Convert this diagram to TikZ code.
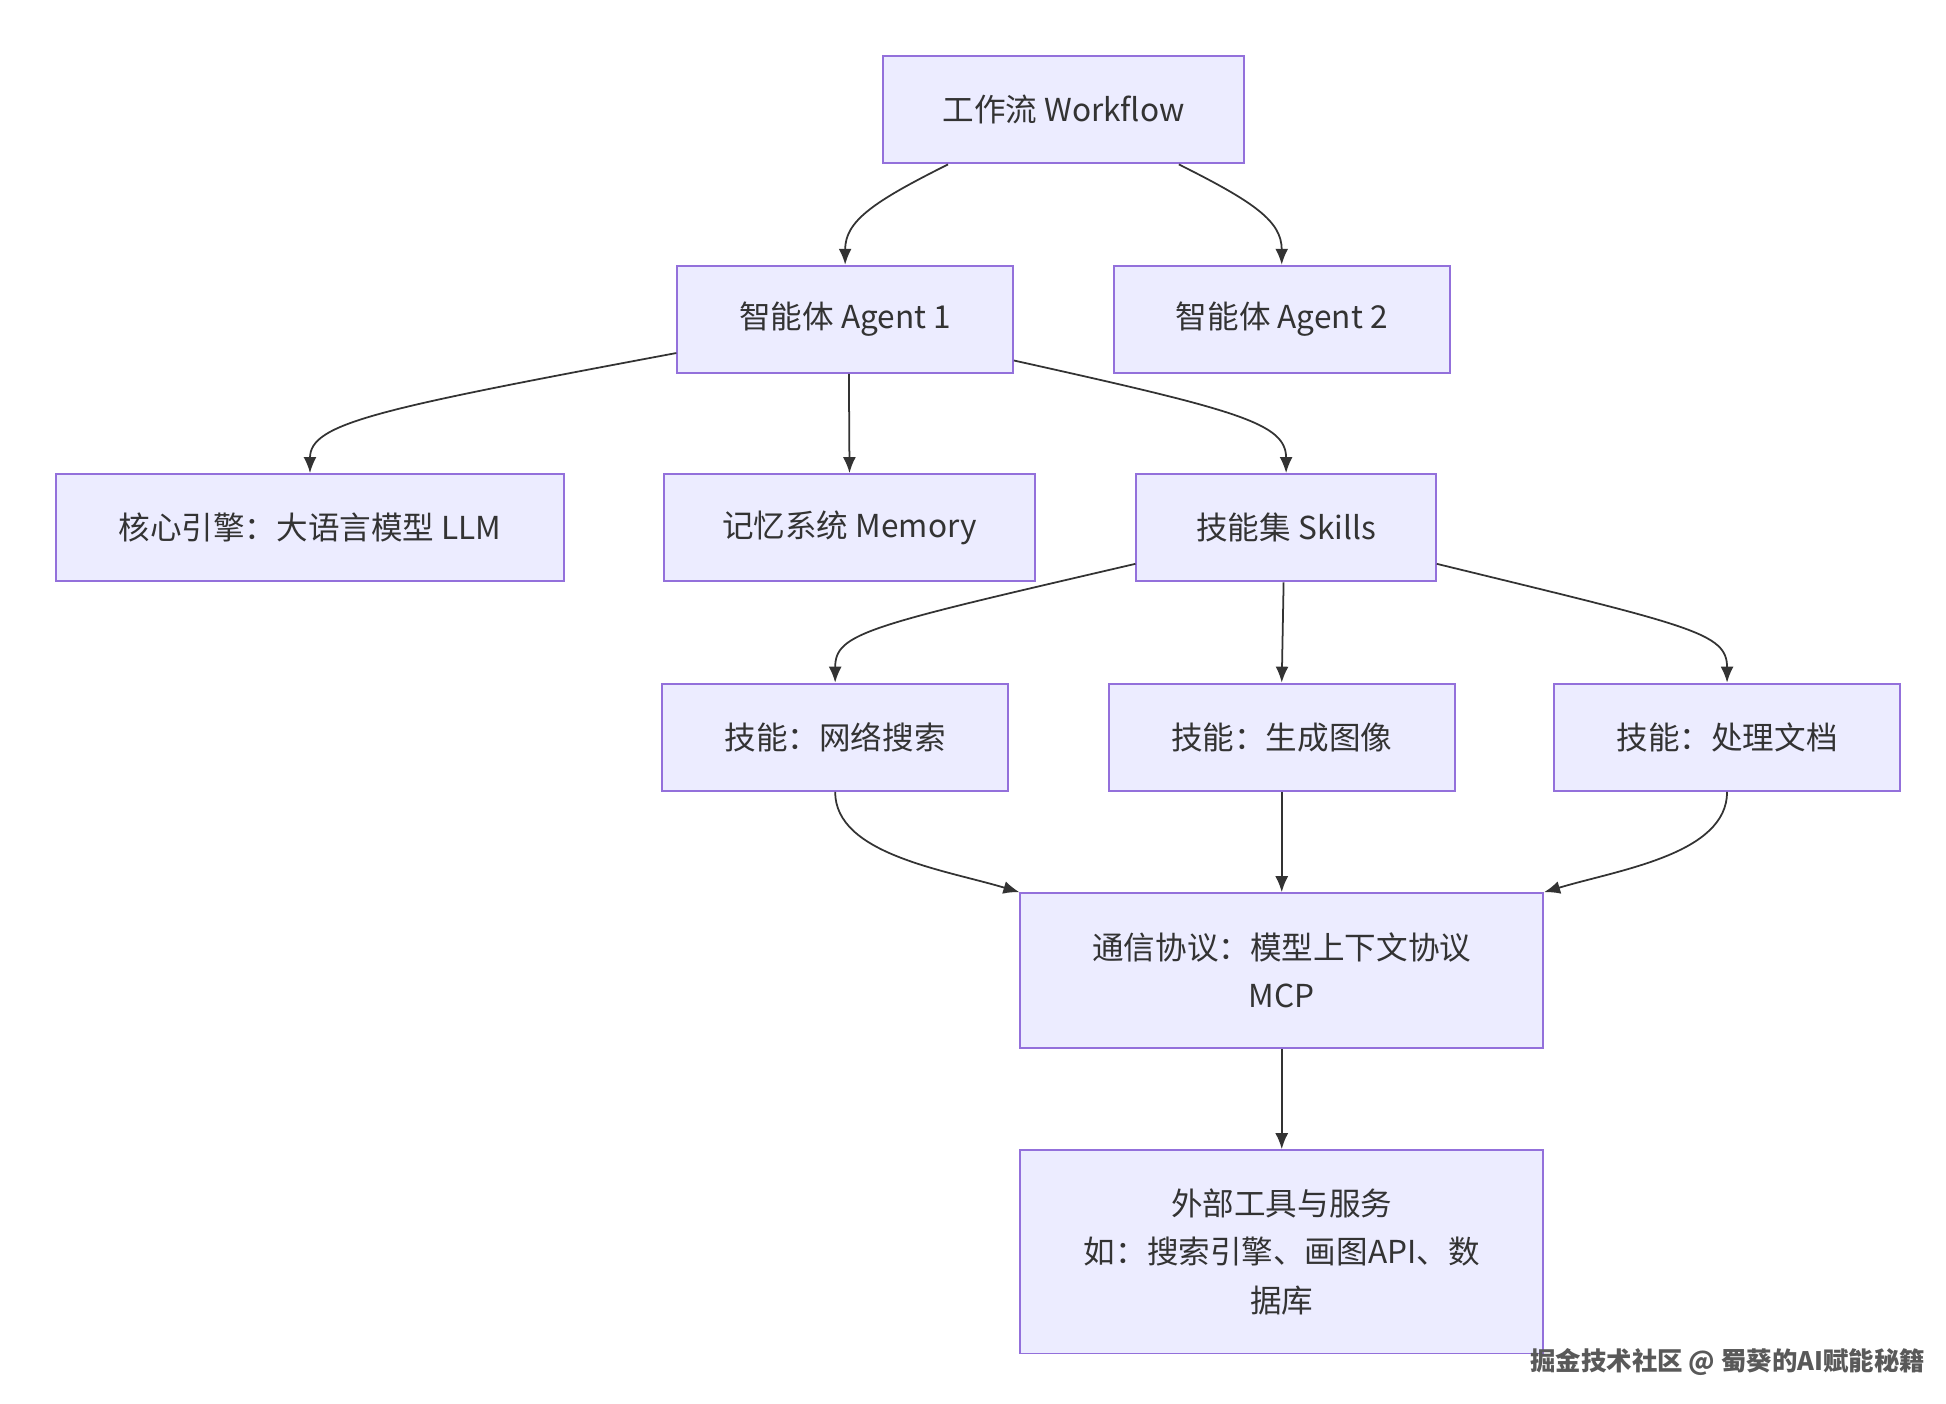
\documentclass[tikz,border=0pt]{standalone}
\usepackage{fontspec}
\setmainfont{Noto Sans CJK SC}
\usetikzlibrary{arrows.meta,calc}
\definecolor{nfill}{HTML}{ECECFF}
\definecolor{nline}{HTML}{9370DB}
\definecolor{eline}{HTML}{333333}
\begin{document}
\begin{tikzpicture}[x=0.025cm,y=-0.025cm,
  box/.style={draw=nline,fill=nfill,line width=1.1pt,inner sep=0pt,font=\fontsize{18}{27.5}\selectfont,text=eline,align=center},
  e/.style={draw=eline,line width=1pt,-{Latex[length=3.2mm,width=2.6mm]}}]
\useasboundingbox (0,0) rectangle (1560,1125);
\node[box,minimum width=7.225cm,minimum height=2.15cm] (wf) at (852.5,88) {工作流 Workflow};
\node[box,minimum width=6.725cm,minimum height=2.15cm] (a1) at (677.5,256) {智能体 Agent 1};
\node[box,minimum width=6.725cm,minimum height=2.15cm] (a2) at (1027.5,256) {智能体 Agent 2};
\node[box,minimum width=10.175cm,minimum height=2.15cm] (llm) at (248.5,423) {核心引擎：大语言模型 LLM};
\node[box,minimum width=7.45cm,minimum height=2.15cm] (mem) at (681,423) {记忆系统 Memory};
\node[box,minimum width=6cm,minimum height=2.15cm] (sk) at (1031,423) {技能集 Skills};
\node[box,minimum width=6.925cm,minimum height=2.15cm] (s1) at (669.5,591) {技能：网络搜索};
\node[box,minimum width=6.925cm,minimum height=2.15cm] (s2) at (1027.5,591) {技能：生成图像};
\node[box,minimum width=6.925cm,minimum height=2.15cm] (s3) at (1384.5,591) {技能：处理文档};
\node[box,minimum width=10.475cm,minimum height=3.1cm] (mcp) at (1027.5,778) {通信协议：模型上下文协议\\MCP};
\node[box,minimum width=10.475cm,minimum height=4.075cm] (ext) at (1027.5,1003.5) {外部工具与服务\\如：搜索引擎、画图API、数\\据库};
\node[text=gray!70!black,font=\fontsize{14.5}{16}\selectfont\bfseries] (wm) at (1385,1092) {掘金技术社区 @ 蜀葵的AI赋能秘籍};
\path[e] ($(wf.south)+(-92.5,0)$) .. controls +(-60,30) and +(0,-35) .. (a1.north);
\path[e] ($(wf.south)+(92.5,0)$) .. controls +(60,30) and +(0,-35) .. (a2.north);
\path[e] ($(a1.west)+(0,27)$) .. controls +(-240,45) and +(0,-40) .. (llm.north);
\path[e] ($(a1.south)+(3,0)$) -- (mem.north);
\path[e] ($(a1.east)+(0,33)$) .. controls +(180,40) and +(0,-40) .. (sk.north);
\path[e] ($(sk.west)+(0,29)$) .. controls +(-215,50) and +(0,-40) .. (s1.north);
\path[e] ($(sk.south)+(-2,0)$) -- (s2.north);
\path[e] ($(sk.east)+(0,29)$) .. controls +(205,50) and +(0,-40) .. (s3.north);
\path[e] (s1.south) .. controls +(0,50) and +(-60,-18) .. (mcp.north west);
\path[e] (s2.south) -- (mcp.north);
\path[e] (s3.south) .. controls +(0,50) and +(60,-18) .. (mcp.north east);
\path[e] (mcp.south) -- (ext.north);
\end{tikzpicture}
\end{document}
